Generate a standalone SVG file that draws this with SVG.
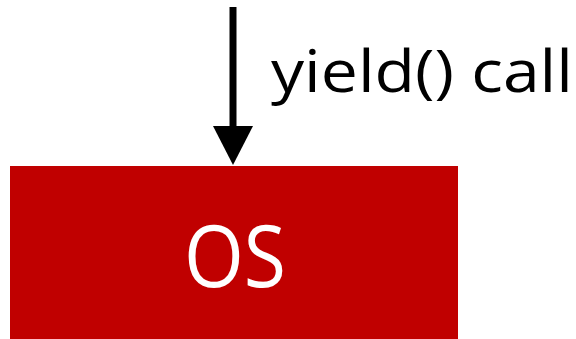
<svg xmlns="http://www.w3.org/2000/svg" width="576" height="339" viewBox="0 0 576 339">
<style>
.lbl{font-family:"Open Sans","Liberation Sans",sans-serif;}
</style>
<rect width="576" height="339" fill="#fff"/>
<g id="connectors">
<line x1="233" y1="7" x2="233" y2="128" stroke="#000" stroke-width="7"/>
<polygon points="213,126 253,126 233,165" fill="#000"/>
</g>
<g id="label">
<text class="lbl" x="271" y="92" font-size="58" textLength="302" lengthAdjust="spacingAndGlyphs" fill="#000">yield() call</text>
</g>
<g id="os">
<rect x="10" y="166" width="448" height="173" fill="#C00000"/>
<text class="lbl" x="184" y="287" font-size="86" textLength="102" lengthAdjust="spacingAndGlyphs" fill="#fff">OS</text>
</g>
</svg>
